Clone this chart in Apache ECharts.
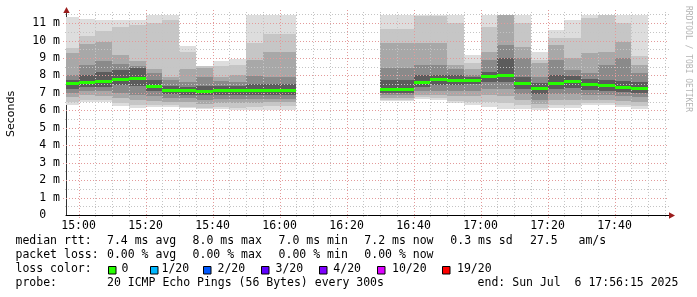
<!DOCTYPE html>
<html><head><meta charset="utf-8">
<script src="https://cdn.jsdelivr.net/npm/echarts@6/dist/echarts.min.js"></script>
<style>html,body{margin:0;padding:0;background:#fff}#c{width:697px;height:297px}</style>
</head><body><div id="c"></div>
<script>
// ---- data (ms), one entry per 5-minute step ----
const barStart = ['14:55','15:00','15:05','15:10','15:15','15:20','15:25','15:30','15:35','15:40','15:45','15:50','15:55','16:00',
  '16:30','16:35','16:40','16:45','16:50','16:55','17:00','17:05','17:10','17:15','17:20','17:25','17:30','17:35','17:40','17:45'];
const pingMax = [11.36,11.23,11.17,11.17,11.17,11.46,11.46,9.68,8.54,8.84,8.94,11.46,11.46,11.46,
  11.46,11.46,11.46,11.46,11.46,9.17,11.46,11.46,11.46,9.36,10.6,11.17,11.46,11.46,11.46,11.46];
const band2Hi = [9.55,10.26,10.56,10.79,10.89,11.02,11.17,9.36,8.52,8.54,8.6,9.84,10.4,10.4,
  10.66,10.66,11.4,11.4,10.98,8.69,10.79,11.45,11.02,8.88,10.13,10.13,11.3,11.44,10.98,9.11];
const band3Hi = [9.27,9.78,9.9,9.17,8.84,8.35,7.93,8.35,8.45,7.93,8.02,8.9,9.36,9.36,
  9.84,9.84,9.84,9.84,8.6,8.35,9.36,11.44,9.65,8.69,9.74,8.98,9.27,9.36,9.93,8.6];
const band4Hi = [8.0,8.6,8.84,8.65,8.54,8.12,7.75,7.64,7.9,7.7,7.64,7.97,7.93,7.93,
  8.41,8.41,8.6,8.58,8.35,8.02,8.88,9.74,8.98,7.93,8.88,8.31,8.12,8.6,8.98,8.15];
const band5Hi = [7.75,8.0,8.21,8.31,8.41,7.75,7.4,7.35,7.4,7.4,7.4,7.5,7.5,7.5,
  7.75,7.75,8.0,8.0,8.0,7.9,8.21,9.0,7.9,7.55,8.0,7.95,7.8,7.75,7.7,7.6];
const median = [7.51,7.62,7.64,7.78,7.81,7.37,7.16,7.12,7.08,7.14,7.16,7.14,7.14,7.14,
  7.22,7.22,7.62,7.74,7.72,7.72,7.93,7.98,7.51,7.26,7.51,7.64,7.47,7.43,7.3,7.24];
const band5Lo = [7.25,7.35,7.35,7.45,7.4,7.1,6.95,6.9,6.85,6.9,6.9,6.9,6.9,6.9,
  7.0,7.0,7.35,7.45,7.45,7.5,7.6,7.6,7.25,6.95,7.25,7.3,7.15,7.1,7.05,7.0];
const band4Lo = [7.0,7.1,7.1,7.0,6.9,6.8,6.7,6.7,6.6,6.65,6.65,6.65,6.65,6.65,
  6.85,6.85,7.1,7.1,7.1,7.1,7.2,7.2,6.95,6.6,6.95,6.95,6.85,6.85,6.8,6.75];
const band3Lo = [6.75,6.85,6.8,6.7,6.6,6.55,6.5,6.45,6.35,6.4,6.4,6.4,6.45,6.45,
  6.7,6.7,6.9,6.85,6.8,6.8,6.85,6.8,6.6,6.35,6.6,6.6,6.6,6.6,6.55,6.5];
const band2Lo = [6.45,6.6,6.6,6.4,6.3,6.3,6.3,6.2,6.15,6.2,6.15,6.2,6.25,6.25,
  6.6,6.6,6.75,6.7,6.55,6.5,6.45,6.4,6.3,6.15,6.3,6.3,6.4,6.4,6.3,6.25];
const pingMin = [6.3,6.49,6.49,6.26,6.15,6.21,6.21,6.11,6.06,6.09,6.02,6.02,6.02,6.02,
  6.55,6.55,6.65,6.59,6.4,6.3,6.17,6.08,6.06,6.02,6.15,6.15,6.28,6.3,6.17,6.09];
const xTickLabels = ['15:00','15:20','15:40','16:00','16:20','16:40','17:00','17:20','17:40'];
const yTickValues = [0,1,2,3,4,5,6,7,8,9,10,11];
const lossLabels = ['0','1/20','2/20','3/20','4/20','10/20','19/20'];
const lossColors = ['#26ff00','#00b8ff','#0059ff','#5e00ff','#7e00ff','#dd00ff','#ff0000'];
const statRows = [
  ['median rtt:', '7.4 ms avg', '8.0 ms max', '7.0 ms min', '7.2 ms now', '0.3 ms sd', '27.5   am/s'],
  ['packet loss:', '0.00 % avg', '0.00 % max', '0.00 % min', '0.00 % now']
];
const probeText = '20 ICMP Echo Pings (56 Bytes) every 300s';
const endText = 'end: Sun Jul  6 17:56:15 2025';

// ---- helpers / layout ----
const STEP = 5;
const toMin = s => { const p = s.split(':').map(Number); return p[0]*60 + p[1]; };
const fmtMin = m => String(Math.floor(m/60)).padStart(2,'0') + ':' + String(m%60).padStart(2,'0');
const X_MIN = toMin('14:56') + 0.25, X_MAX = toMin('17:56') + 0.25;
const Y_MAX = 11.75;
const MONO = "'DejaVu Sans Mono', monospace";
const FS = 11.5;
const smokeColors = ['#dddddd','#c6c6c6','#a8a8a8','#8a8a8a','#5c5c5c'];
const MAJ = '#e39a9a', MIN = '#c4c4c4';

const smokeData = barStart.map((t,i) => [toMin(t), toMin(t)+STEP,
  pingMax[i], band2Hi[i], band3Hi[i], band4Hi[i], band5Hi[i], median[i],
  band5Lo[i], band4Lo[i], band3Lo[i], band2Lo[i], pingMin[i]]);

const hGrid = [];
for (let v = 0.5; v < Y_MAX; v += 0.5) hGrid.push([X_MIN, v, Number.isInteger(v) ? 1 : 0]);
const vGrid = [];
for (let m = toMin('15:00'); m < X_MAX; m += 5) vGrid.push([m, 0, (m - toMin('15:00')) % 20 === 0 ? 1 : 0]);

const chart = echarts.init(document.getElementById('c'), null, {renderer: 'canvas'});

const graphic = [];
const txt = (x, y, s, extra) => graphic.push(Object.assign({type:'text', x, y, silent:true,
  style: {text: s, fontFamily: MONO, fontSize: FS, fill: '#000', align:'left', verticalAlign:'middle', textAlign:'left', textVerticalAlign:'middle'}}, extra||{}));
const rowY = [241.5, 255, 269.3, 283];
const colX1 = [15.5, 107, 192.6, 278.6, 364.3, 450.3, 530];
statRows.forEach((row, r) => row.forEach((s, c) => txt(colX1[c], rowY[r], s)));
txt(15.5, rowY[2], 'loss color:');
const boxX = [108, 150, 203, 261, 319, 377, 442];
const lblX = [121.6, 161.5, 217.5, 275.5, 333.3, 392, 457];
lossLabels.forEach((l, i) => {
  graphic.push({type:'rect', silent:true, shape:{x: boxX[i]+0.5, y: 266.5, width: 7.5, height: 7.5},
    style:{fill: lossColors[i], stroke:'#000', lineWidth:1}});
  txt(lblX[i], rowY[2], l);
});
txt(15.5, rowY[3], 'probe:');
txt(107, rowY[3], probeText);
txt(477.6, rowY[3], endText);
// axis title and watermark
graphic.push({type:'text', x: 11, y: 114, rotation: Math.PI/2, silent:true,
  style:{text:'Seconds', fontFamily:"'DejaVu Sans', sans-serif", fontSize: 11, fill:'#000', align:'center', verticalAlign:'middle', textAlign:'center', textVerticalAlign:'middle'}});
graphic.push({type:'text', x: 688, y: 59, rotation: -Math.PI/2, silent:true,
  style:{text:'RRDTOOL / TOBI OETIKER', fontFamily: MONO, fontSize: 8, fill:'#b4b4b4', align:'center', verticalAlign:'middle', textAlign:'center', textVerticalAlign:'middle'}});
// axis arrows
graphic.push({type:'polygon', silent:true, z: 100, shape:{points:[[66.5,7],[63.3,13],[69.7,13]]}, style:{fill:'#9b1c1c'}});
graphic.push({type:'polygon', silent:true, z: 100, shape:{points:[[675,215.5],[669,212.3],[669,218.7]]}, style:{fill:'#9b1c1c'}});

chart.setOption({
  animation: false,
  backgroundColor: '#fff',
  grid: {left: 66, right: 28, top: 10, bottom: 82},
  xAxis: {
    type: 'value', min: X_MIN, max: X_MAX,
    axisLine: {show: true, onZero: false, lineStyle: {color: '#000', width: 1}},
    axisTick: {show: false}, splitLine: {show: false},
    axisLabel: {customValues: xTickLabels.map(toMin), formatter: v => fmtMin(v),
      fontFamily: MONO, fontSize: FS, color: '#000', margin: 5, showMinLabel: true, showMaxLabel: true}
  },
  yAxis: {
    type: 'value', min: 0, max: Y_MAX, interval: 1,
    axisLine: {show: true, lineStyle: {color: '#333', width: 1}},
    axisTick: {show: false}, splitLine: {show: false},
    axisLabel: {customValues: yTickValues, formatter: v => v === 0 ? '0  ' : v + ' m',
      fontFamily: MONO, fontSize: FS, color: '#000', margin: 6}
  },
  graphic: graphic,
  series: [
    {
      type: 'custom', name: 'smoke', clip: true, z: 2, silent: true,
      data: smokeData, encode: {x: [0, 1], y: [2, 12]},
      renderItem: (params, api) => {
        const s = api.value(0), e = api.value(1);
        const children = [];
        for (let k = 0; k < 5; k++) {
          const hi = api.value(2 + k), lo = api.value(12 - k);
          const a = api.coord([s, hi]), b = api.coord([e, lo]);
          const x0 = Math.round(a[0]), x1 = Math.round(b[0]);
          const y0 = Math.round(a[1]), y1 = Math.round(b[1]);
          children.push({type: 'rect', shape: {x: x0, y: y0, width: x1 - x0, height: y1 - y0},
            style: {fill: smokeColors[k]}});
        }
        return {type: 'group', children};
      }
    },
    {
      type: 'custom', name: 'hgrid', clip: false, z: 3, silent: true,
      data: hGrid, encode: {x: 0, y: 1},
      renderItem: (params, api) => {
        const v = api.value(1), major = api.value(2);
        const a = api.coord([X_MIN, v]), b = api.coord([X_MAX, v]);
        const y = Math.round(a[1]) + 0.5;
        return {type: 'line', shape: {x1: Math.round(a[0]) - (major ? 3 : 1), y1: y, x2: Math.round(b[0]), y2: y},
          style: {stroke: major ? MAJ : MIN, lineWidth: 1, lineDash: [1, 2]}};
      }
    },
    {
      type: 'custom', name: 'vgrid', clip: false, z: 3, silent: true,
      data: vGrid, encode: {x: 0, y: 1},
      renderItem: (params, api) => {
        const t = api.value(0), major = api.value(2);
        const a = api.coord([t, 0]), b = api.coord([t, Y_MAX]);
        const x = Math.round(a[0]) + 0.5;
        return {type: 'line', shape: {x1: x, y1: Math.round(a[1]) + (major ? 3 : 2), x2: x, y2: Math.round(b[1])},
          style: {stroke: major ? MAJ : MIN, lineWidth: 1, lineDash: [1, 2]}};
      }
    },
    {
      type: 'custom', name: 'median', clip: true, z: 4, silent: true,
      data: smokeData.map(d => [d[0], d[1], d[7]]), encode: {x: [0, 1], y: 2},
      renderItem: (params, api) => {
        const a = api.coord([api.value(0), api.value(2)]), b = api.coord([api.value(1), api.value(2)]);
        const x0 = Math.round(a[0]), x1 = Math.round(b[0]);
        return {type: 'rect', shape: {x: x0, y: Math.round(a[1] - 1.5), width: x1 - x0, height: 3},
          style: {fill: lossColors[0]}};
      }
    }
  ]
});
</script></body></html>
